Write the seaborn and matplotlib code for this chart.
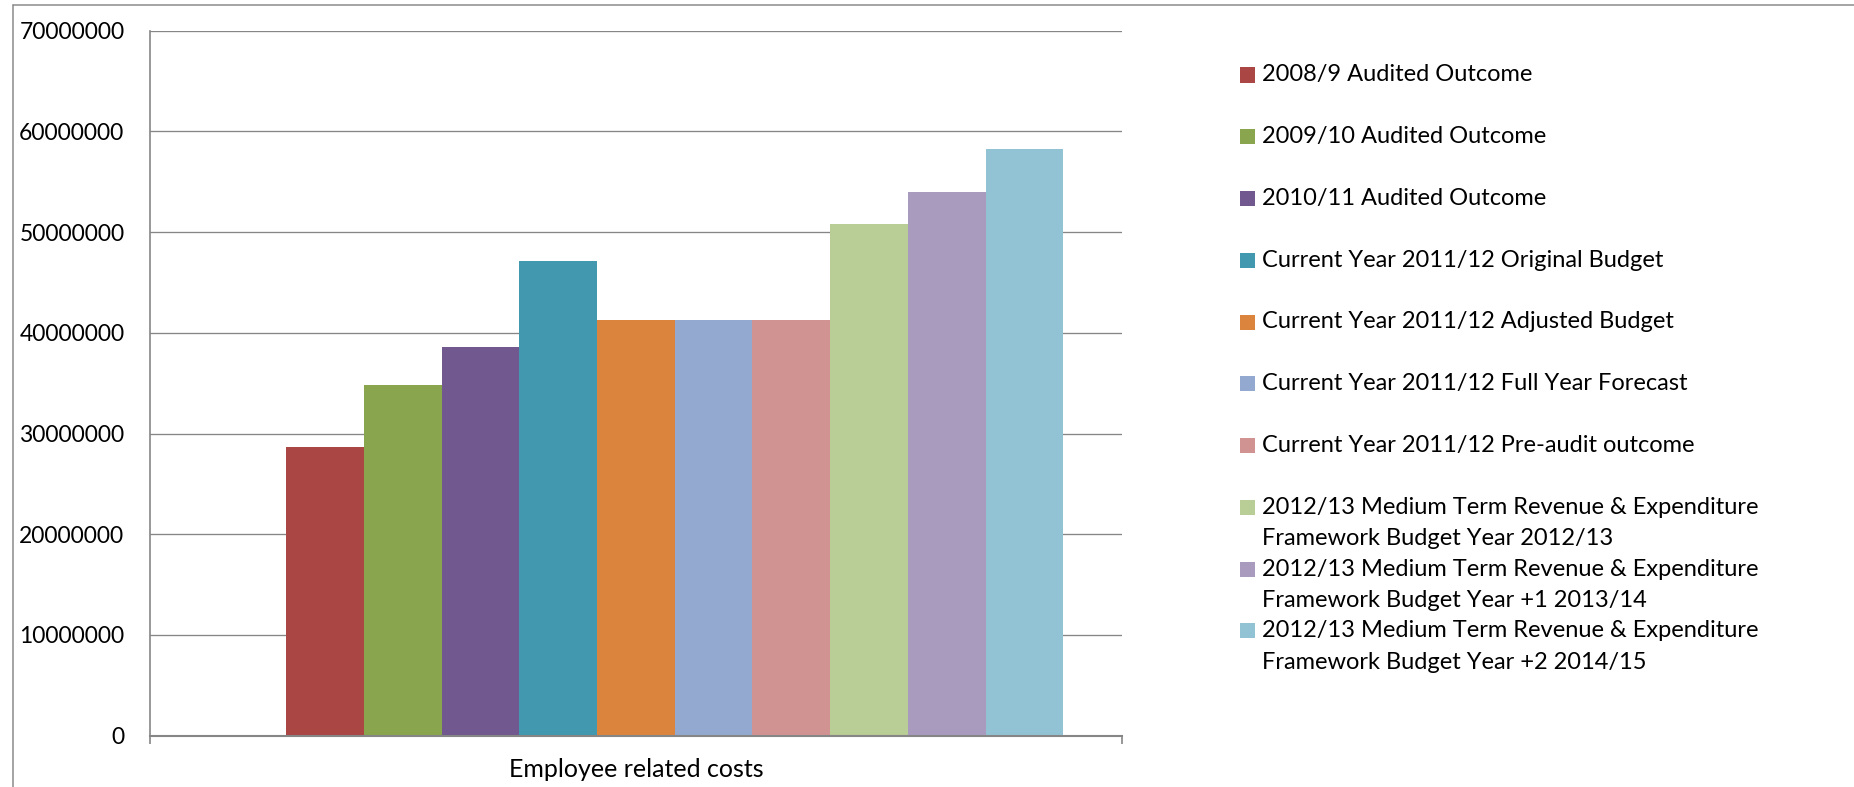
import textwrap

import matplotlib
matplotlib.use("Agg")
import matplotlib.pyplot as plt
import pandas as pd
import seaborn as sns
from matplotlib.lines import Line2D
from matplotlib.patches import Rectangle
from matplotlib.ticker import FixedLocator

# ---- data -------------------------------------------------------------
category = "Employee related costs"

series = [
    "2008/9 Audited Outcome",
    "2009/10 Audited Outcome",
    "2010/11 Audited Outcome",
    "Current Year 2011/12 Original Budget",
    "Current Year 2011/12 Adjusted Budget",
    "Current Year 2011/12 Full Year Forecast",
    "Current Year 2011/12 Pre-audit outcome",
    "2012/13 Medium Term Revenue & Expenditure Framework Budget Year 2012/13",
    "2012/13 Medium Term Revenue & Expenditure Framework Budget Year +1 2013/14",
    "2012/13 Medium Term Revenue & Expenditure Framework Budget Year +2 2014/15",
]

values = [
    28_700_000,
    34_820_000,
    38_600_000,
    47_130_000,
    41_280_000,
    41_280_000,
    41_280_000,
    50_810_000,
    53_990_000,
    58_260_000,
]

colors = [
    "#AA4644", "#89A54E", "#71588F", "#4198AF", "#DB843D",
    "#93A9CF", "#D19392", "#B9CD96", "#A99BBD", "#92C3D4",
]

y_ticks = [0, 10_000_000, 20_000_000, 30_000_000,
           40_000_000, 50_000_000, 60_000_000, 70_000_000]
y_tick_labels = ["0", "10000000", "20000000", "30000000",
                 "40000000", "50000000", "60000000", "70000000"]

# ---- style ------------------------------------------------------------
sns.set_theme(style="white")
plt.rcParams["font.family"] = ["Lato", "DejaVu Sans"]

W, H, DPI = 1854, 787, 100
GRID = "#868686"
FS_TICK = 16.5
FS_LEGEND = 17.0
FS_XLABEL = 18.0

fig = plt.figure(figsize=(W / DPI, H / DPI), dpi=DPI, facecolor="white")


def px_x(x):
    return x / W


def px_y(y):
    return 1 - y / H


# plot area in pixels: left 150, right 1121.7, top 30.7, bottom 735.7
ax = fig.add_axes([px_x(150), px_y(735.7), px_x(1121.7 - 150), (735.7 - 30.7) / H])

df = pd.DataFrame({
    "category": [category] * len(series),
    "series": series,
    "value": values,
})

# a leading blank slot in the cluster, as in the source workbook
hue_levels = [""] + series
palette = {"": "white", **dict(zip(series, colors))}

sns.barplot(
    data=df, x="category", y="value", hue="series",
    hue_order=hue_levels, palette=palette,
    width=0.88, saturation=1, linewidth=0, errorbar=None,
    legend=False, ax=ax,
)

ax.set_xlim(-0.5, 0.5)
ax.set_ylim(y_ticks[0], y_ticks[-1])
ax.set_yticks(y_ticks, y_tick_labels)
ax.set_xlabel("")
ax.set_ylabel("")

ax.yaxis.grid(True, color=GRID, linewidth=0.95)
ax.set_axisbelow(True)
for side in ("top", "right"):
    ax.spines[side].set_visible(False)
ax.spines["left"].set_color(GRID)
ax.spines["left"].set_linewidth(1.2)
ax.spines["bottom"].set_color(GRID)
ax.spines["bottom"].set_linewidth(1.5)

ax.tick_params(axis="y", which="major", direction="out", length=5.8,
               width=0.95, color=GRID, pad=12.6, labelsize=FS_TICK, labelcolor="black")
ax.tick_params(axis="x", which="major", length=0, pad=16,
               labelsize=FS_XLABEL, labelcolor="black")
ax.xaxis.set_minor_locator(FixedLocator([-0.5, 0.5]))
ax.tick_params(axis="x", which="minor", direction="out", length=5.8,
               width=1.2, color=GRID, bottom=True)

# ---- legend -----------------------------------------------------------
row0, row_step, line_step = 75.0, 61.75, 31.7
mark_x, mark_w, mark_h = 1240, 15, 15
text_x = 1262
for i, (name, color) in enumerate(zip(series, colors)):
    yc = row0 + i * row_step
    fig.add_artist(Rectangle(
        (px_x(mark_x), px_y(yc + mark_h / 2)), mark_w / W, mark_h / H,
        transform=fig.transFigure, facecolor=color, edgecolor="none"))
    for j, line in enumerate(textwrap.wrap(name, width=41)):
        fig.text(px_x(text_x), px_y(yc + j * line_step), line,
                 ha="left", va="center", fontsize=FS_LEGEND, color="black")

# ---- outer chart frame -----------------------------------------------
fig.add_artist(Line2D([px_x(13), 1.0], [px_y(5.3), px_y(5.3)],
                      transform=fig.transFigure, color="#8C8C8C", linewidth=1.1))
fig.add_artist(Line2D([px_x(13), px_x(13)], [0.0, px_y(5.3)],
                      transform=fig.transFigure, color="#8C8C8C", linewidth=1.1))

fig.savefig("out.png", dpi=DPI, facecolor="white")
